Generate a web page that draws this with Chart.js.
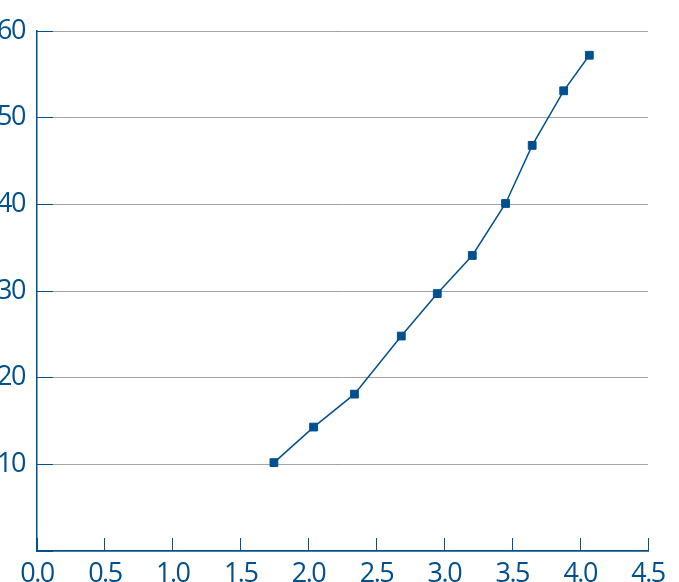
<!DOCTYPE html>
<html>
<head>
<meta charset="utf-8">
<script src="https://cdn.jsdelivr.net/npm/chart.js@4"></script>
<style>
  html, body { margin: 0; padding: 0; background: #fff; }
  #wrap { width: 679px; height: 582px; }
</style>
</head>
<body>
<div id="wrap"><canvas id="myChart"></canvas></div>
<script>
// 값 읽은 것
const xValues = [1.745, 2.037, 2.338, 2.683, 2.948, 3.206, 3.451, 3.647, 3.879, 4.068];
const yValues = [10.2, 14.3, 18.1, 24.8, 29.7, 34.1, 40.1, 46.8, 53.1, 57.2];
const xTicks = [0, 0.5, 1, 1.5, 2, 2.5, 3, 3.5, 4, 4.5];
const yTicks = [0, 10, 20, 30, 40, 50, 60];

const blue = "#00508f";
const font = { family: "'Open Sans', sans-serif", size: 27 };

const points = xValues.map((x, i) => ({ x: x, y: yValues[i] }));

// 축 자체 패딩 없애기
const noPad = (axis) => {
  axis.paddingTop = 0;
  axis.paddingBottom = 0;
  axis.paddingLeft = 0;
  axis.paddingRight = 0;
};

// 글자 간격 좁게
const tightText = {
  id: "tightText",
  beforeDraw: (chart) => { chart.ctx.letterSpacing = "-1.5px"; },
};

const config = {
  type: "scatter",
  data: {
    datasets: [
      {
        data: points,
        showLine: true,
        borderColor: blue,
        borderWidth: 1.5,
        pointStyle: "rect",
        pointRadius: 5.5,
        pointBorderWidth: 1,
        pointBackgroundColor: blue,
        pointBorderColor: blue,
      },
    ],
  },
  options: {
    responsive: true,
    maintainAspectRatio: false,
    animation: false,
    layout: { padding: { left: 0, top: 31, right: 31, bottom: 0 } },
    plugins: { legend: { display: false }, tooltip: { enabled: false } },
    scales: {
      x: {
        type: "linear",
        min: xTicks[0],
        max: xTicks[xTicks.length - 1],
        afterBuildTicks: (axis) => { axis.ticks = xTicks.map((v) => ({ value: v })); },
        afterFit: (axis) => { axis.height = 31; noPad(axis); },
        grid: { drawOnChartArea: false, drawTicks: true, tickLength: -13, tickColor: blue, tickWidth: 1 },
        border: { color: blue, width: 1.5 },
        ticks: {
          color: blue,
          font: font,
          padding: 20,
          maxRotation: 0,
          autoSkip: false,
          callback: (v) => Number(v).toFixed(1),
        },
      },
      y: {
        type: "linear",
        min: yTicks[0],
        max: yTicks[yTicks.length - 1],
        afterBuildTicks: (axis) => { axis.ticks = yTicks.map((v) => ({ value: v })); },
        afterFit: (axis) => { axis.width = 37; noPad(axis); },
        grid: { color: "#a3a3a3", lineWidth: 1, drawTicks: true, tickLength: -16, tickColor: blue, tickWidth: 1 },
        border: { color: blue, width: 1.5 },
        ticks: {
          color: blue,
          font: font,
          padding: 28,
          autoSkip: false,
          callback: (v) => (v === 0 ? "" : String(v)),
        },
      },
    },
  },
  plugins: [tightText],
};

const myChart = new Chart(document.getElementById("myChart"), config);
</script>
</body>
</html>
